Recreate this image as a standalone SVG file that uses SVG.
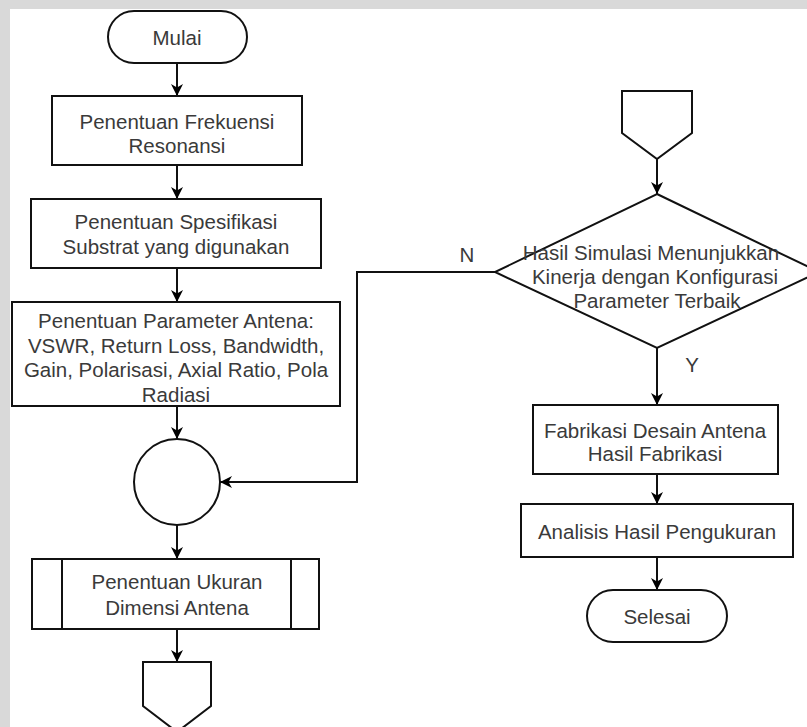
<svg xmlns="http://www.w3.org/2000/svg" width="807" height="727" viewBox="0 0 807 727">
  <defs>
    <marker id="arr" markerUnits="userSpaceOnUse" markerWidth="13" markerHeight="13" refX="12" refY="6" orient="auto" overflow="visible">
      <path d="M0,0 L12,6 L0,12 L3.5,6 z" fill="#000"/>
    </marker>
  </defs>
  <style>
    .shape { fill: #fff; stroke: #111; stroke-width: 2; }
    .inner { fill: none; stroke: #111; stroke-width: 2; }
    .edge { fill: none; stroke: #111; stroke-width: 2; marker-end: url(#arr); }
    .t { font-family: "Liberation Sans", Arial, sans-serif; font-size: 20.5px; fill: #3a3a3a; text-anchor: middle; }
  </style>
  <rect x="0" y="0" width="807" height="727" fill="#fff"/>
  <rect x="0" y="0" width="807" height="9" fill="#d9d9d9"/>
  <rect x="0" y="0" width="10" height="727" fill="#d9d9d9"/>

  <g id="connectors">
    <line class="edge" x1="177" y1="63" x2="177" y2="96"/>
    <line class="edge" x1="177" y1="165" x2="177" y2="199"/>
    <line class="edge" x1="177" y1="268" x2="177" y2="302"/>
    <line class="edge" x1="177" y1="406" x2="177" y2="439"/>
    <line class="edge" x1="177" y1="525" x2="177" y2="559"/>
    <line class="edge" x1="177" y1="629" x2="177" y2="662"/>
    <line class="edge" x1="657" y1="159" x2="657" y2="194"/>
    <line class="edge" x1="657" y1="348" x2="657" y2="405"/>
    <line class="edge" x1="657" y1="474" x2="657" y2="504"/>
    <line class="edge" x1="657" y1="557" x2="657" y2="590"/>
    <polyline class="edge" points="495,272 357,272 357,482 220,482"/>
    <text class="t" x="467" y="262">N</text>
    <text class="t" x="692" y="372">Y</text>
  </g>

  <g id="mulai">
    <rect class="shape" x="108" y="11" width="139" height="52" rx="26" ry="26"/>
    <text class="t" x="177" y="45">Mulai</text>
  </g>

  <g id="frekuensi">
    <rect class="shape" x="52" y="96" width="250" height="69"/>
    <text class="t" x="177" y="129">Penentuan Frekuensi</text>
    <text class="t" x="177" y="153">Resonansi</text>
  </g>

  <g id="substrat">
    <rect class="shape" x="31" y="199" width="290" height="69"/>
    <text class="t" x="176" y="229">Penentuan Spesifikasi</text>
    <text class="t" x="176" y="254">Substrat yang digunakan</text>
  </g>

  <g id="parameter">
    <rect class="shape" x="12" y="302" width="328" height="104"/>
    <text class="t" x="176" y="328">Penentuan Parameter Antena:</text>
    <text class="t" x="176" y="352.5">VSWR, Return Loss, Bandwidth,</text>
    <text class="t" x="176" y="377">Gain, Polarisasi, Axial Ratio, Pola</text>
    <text class="t" x="176" y="401.5">Radiasi</text>
  </g>

  <g id="connector-circle">
    <circle class="shape" cx="177" cy="482" r="43"/>
  </g>

  <g id="ukuran">
    <rect class="shape" x="32" y="559" width="287" height="70"/>
    <line class="inner" x1="62" y1="559" x2="62" y2="629"/>
    <line class="inner" x1="291" y1="559" x2="291" y2="629"/>
    <text class="t" x="177" y="589">Penentuan Ukuran</text>
    <text class="t" x="177" y="615">Dimensi Antena</text>
  </g>

  <g id="offpage-bottom">
    <polygon class="shape" points="143,662 211,662 211,706 177,732 143,706"/>
  </g>

  <g id="offpage-top">
    <polygon class="shape" points="622,91 692,91 692,133 657,159 622,133"/>
  </g>

  <g id="keputusan">
    <polygon class="shape" points="657,194 819,272 657,348 495,272"/>
    <text class="t" x="651" y="260">Hasil Simulasi Menunjukkan</text>
    <text class="t" x="655" y="284">Kinerja dengan Konfigurasi</text>
    <text class="t" x="657" y="308">Parameter Terbaik</text>
  </g>

  <g id="fabrikasi">
    <rect class="shape" x="533" y="405" width="245" height="69"/>
    <text class="t" x="655" y="438">Fabrikasi Desain Antena</text>
    <text class="t" x="655" y="461">Hasil Fabrikasi</text>
  </g>

  <g id="analisis">
    <rect class="shape" x="521" y="504" width="272" height="53"/>
    <text class="t" x="657" y="539">Analisis Hasil Pengukuran</text>
  </g>

  <g id="selesai">
    <rect class="shape" x="587" y="590" width="140" height="52" rx="26" ry="26"/>
    <text class="t" x="657" y="624">Selesai</text>
  </g>
</svg>
